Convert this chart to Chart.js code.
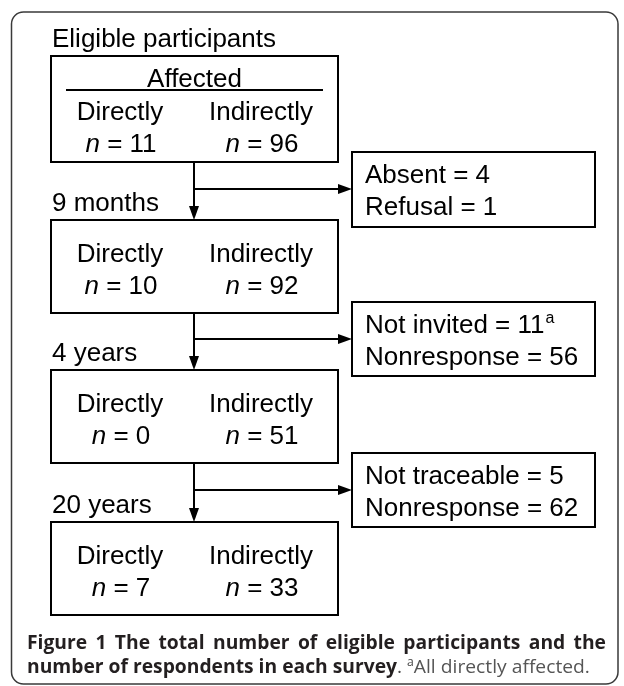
<!DOCTYPE html>
<html>
<head>
<meta charset="utf-8">
<script src="https://cdn.jsdelivr.net/npm/chart.js@4"></script>
<style>
  body { margin: 0; background: #fff; }
  #wrap { width: 624px; height: 686px; }
</style>
</head>
<body>
<div id="wrap"><canvas id="flow" width="624" height="686"></canvas></div>
<script>
  // survey stages and respondents
  const stages = ['Eligible participants', '9 months', '4 years', '20 years'];
  const groups = ['Directly', 'Indirectly'];
  const directly = [11, 10, 0, 7];
  const indirectly = [96, 92, 51, 33];
  // losses between stages
  const lossLabels = [['Absent', 'Refusal'], ['Not invited', 'Nonresponse'], ['Not traceable', 'Nonresponse']];
  const lossValues = [[4, 1], [11, 56], [5, 62]];
  const lossNotes = [['', ''], ['a', ''], ['', '']];

  // layout (in scale units, 1 unit = 1 px)
  const boxLeft = 51, boxRight = 338, stemX = 194;
  const boxTop = [56, 220, 370, 522];
  const boxBottom = [162, 313, 463, 615];
  const colX = [121, 262];
  const lossLeft = 352, lossRight = 595;
  const lossTop = [152, 302, 453];
  const lossBottom = [227, 376, 527];
  const arrowY = [189, 339, 490];

  const FONT = '"Liberation Sans", Arial, sans-serif';
  const CAP = '"Open Sans", "Noto Sans", sans-serif';

  function drawN(ctx, cx, y, v) {
    ctx.font = 'italic 26px ' + FONT;
    const w1 = ctx.measureText('n').width;
    ctx.font = '26px ' + FONT;
    const rest = ' = ' + v;
    const w2 = ctx.measureText(rest).width;
    const x = cx - (w1 + w2) / 2;
    ctx.textAlign = 'left';
    ctx.font = 'italic 26px ' + FONT;
    ctx.fillText('n', x, y);
    ctx.font = '26px ' + FONT;
    ctx.fillText(rest, x + w1, y);
  }

  function arrowHead(ctx, x, y, dir) {
    ctx.beginPath();
    if (dir === 'down') {
      ctx.moveTo(x, y); ctx.lineTo(x - 5, y - 14); ctx.lineTo(x + 5, y - 14);
    } else {
      ctx.moveTo(x, y); ctx.lineTo(x - 14, y - 5); ctx.lineTo(x - 14, y + 5);
    }
    ctx.closePath();
    ctx.fill();
  }

  const flowPlugin = {
    id: 'flow',
    afterDraw(chart) {
      const ctx = chart.ctx;
      const xs = chart.scales.x, ys = chart.scales.y;
      const px = v => xs.getPixelForValue(v);
      const py = v => ys.getPixelForValue(v);
      ctx.save();

      // outer frame
      ctx.strokeStyle = '#3a3a3a';
      ctx.lineWidth = 1.5;
      ctx.beginPath();
      ctx.roundRect(px(11.5), py(12), px(618) - px(11.5), py(684) - py(12), 12);
      ctx.stroke();

      ctx.fillStyle = '#000';
      ctx.strokeStyle = '#000';
      ctx.lineWidth = 2;
      ctx.textBaseline = 'alphabetic';

      stages.forEach((s, i) => {
        ctx.font = '26px ' + FONT;
        ctx.textAlign = 'left';
        ctx.fillText(s, px(boxLeft + 1), py(boxTop[i] - 9));
        ctx.strokeRect(px(boxLeft), py(boxTop[i]), px(boxRight) - px(boxLeft), py(boxBottom[i]) - py(boxTop[i]));
        let base = boxTop[i] + 42;
        if (i === 0) {
          ctx.textAlign = 'center';
          ctx.fillText('Affected', px((boxLeft + boxRight) / 2), py(boxTop[i] + 31));
          ctx.beginPath();
          ctx.moveTo(px(66), py(90)); ctx.lineTo(px(323), py(90));
          ctx.stroke();
          base = 120;
        }
        ctx.textAlign = 'center';
        ctx.fillText(groups[0], px(colX[0] - 1), py(base));
        ctx.fillText(groups[1], px(colX[1] - 1), py(base));
        drawN(ctx, px(colX[0]), py(base + 32), directly[i]);
        drawN(ctx, px(colX[1]), py(base + 32), indirectly[i]);

        if (i < stages.length - 1) {
          ctx.beginPath();
          ctx.moveTo(px(stemX), py(boxBottom[i]));
          ctx.lineTo(px(stemX), py(boxTop[i + 1] - 10));
          ctx.stroke();
          arrowHead(ctx, px(stemX), py(boxTop[i + 1]), 'down');
          ctx.beginPath();
          ctx.moveTo(px(stemX), py(arrowY[i]));
          ctx.lineTo(px(lossLeft - 10), py(arrowY[i]));
          ctx.stroke();
          arrowHead(ctx, px(lossLeft), py(arrowY[i]), 'right');
          ctx.strokeRect(px(lossLeft), py(lossTop[i]), px(lossRight) - px(lossLeft), py(lossBottom[i]) - py(lossTop[i]));
          ctx.textAlign = 'left';
          lossLabels[i].forEach((lab, j) => {
            const y = py(lossTop[i] + 31 + j * 32);
            ctx.font = '26px ' + FONT;
            const t = lab + ' = ' + lossValues[i][j];
            ctx.fillText(t, px(lossLeft + 13), y);
            if (lossNotes[i][j]) {
              const w = ctx.measureText(t).width;
              ctx.font = '16px ' + FONT;
              ctx.fillText(lossNotes[i][j], px(lossLeft + 14) + w, y - 10);
            }
          });
        }
      });

      // caption: justified first line, horizontally condensed font
      const fsz = 19;
      const bold = 'bold ' + fsz + 'px ' + CAP;
      const reg = fsz + 'px ' + CAP;
      const x0 = px(27), x1 = px(606);
      const line2 = 'number of respondents in each survey';
      ctx.font = bold;
      const fx = (px(397) - x0) / ctx.measureText(line2).width;
      ctx.textAlign = 'left';

      // line 1
      const words = 'Figure 1 The total number of eligible participants and the'.split(' ');
      const ww = words.map(w => ctx.measureText(w).width * fx);
      const gap = (x1 - x0 - ww.reduce((a, b) => a + b, 0)) / (words.length - 1);
      let x = x0;
      ctx.fillStyle = '#231f20';
      words.forEach((w, k) => {
        ctx.save();
        ctx.translate(x, py(649));
        ctx.scale(fx, 1);
        ctx.fillText(w, 0, 0);
        ctx.restore();
        x += ww[k] + gap;
      });

      // line 2
      const y2 = py(673);
      const pieces = [
        { t: line2, f: bold, c: '#231f20', dy: 0 },
        { t: '. ', f: reg, c: '#444', dy: 0 },
        { t: 'a', f: '12px ' + CAP, c: '#444', dy: -7 },
        { t: 'All directly affected.', f: reg, c: '#555', dy: 0 }
      ];
      x = x0;
      pieces.forEach(p => {
        ctx.font = p.f;
        ctx.fillStyle = p.c;
        ctx.save();
        ctx.translate(x, y2 + p.dy);
        ctx.scale(fx, 1);
        ctx.fillText(p.t, 0, 0);
        ctx.restore();
        x += ctx.measureText(p.t).width * fx;
      });

      ctx.restore();
    }
  };

  const flowChart = new Chart(document.getElementById('flow'), {
    type: 'scatter',
    data: { datasets: [{ data: [], showLine: false }] },
    options: {
      responsive: false,
      animation: false,
      layout: { padding: 0 },
      scales: {
        x: { type: 'linear', min: 0, max: 624, display: false },
        y: { type: 'linear', min: 0, max: 686, reverse: true, display: false }
      },
      plugins: { legend: { display: false }, tooltip: { enabled: false } }
    },
    plugins: [flowPlugin]
  });
</script>
</body>
</html>
